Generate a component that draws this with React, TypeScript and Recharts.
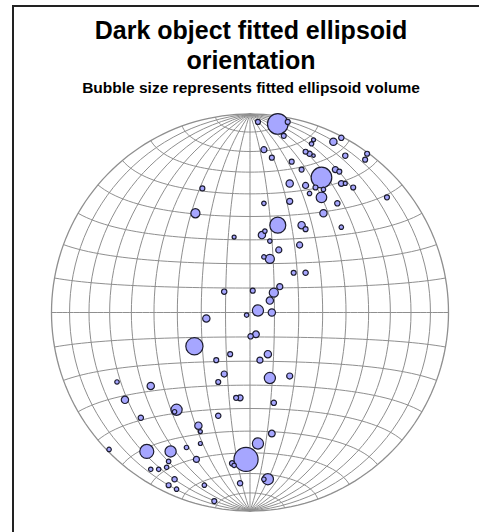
import React from "react";
import { ScatterChart, Scatter, XAxis, YAxis, ZAxis } from "recharts";

// pole positions on an equal-area (Schmidt) net, in % of net radius
const netX = [
  4, 14, 19, 17, 7, 11, 21, 28, 30, 32,
  32, 31, 42, 46, 48, 59, 58, 26, 36, 43,
  45, 20, 28, 33, 37, 30, 46, 48, 52, 69,
  36, 20, 7, 44, 37, 14, 26, 28, 46, 7.5,
  6, 10, 14.5, 25, -24, -27.5, -8, 7, 10, 22,
  28, -13, 1.4, 15, 12, 10, 4, 11, -1.7, -22,
  0.3, 3, -28, -10, 9, 5, -17, 10, 20, -13,
  -16, -67, -50, -63, -37, -38, -7, -5, 12, -55,
  -16, -26, -25, 11, -71, -52, -40, -32, -25, -27,
  4, -2, -9, -8, -50, -46, -42, -41, -38, 9,
  7, -41, -37, -23, -5, -18,
];
const netY = [
  96, 95, 96, 89, 82, 78, 76, 81, 80, 79,
  87, 85, 86, 88, 79, 80, 77, 72, 68, 72,
  71, 65, 64, 63, 62, 60, 65, 65, 63, 58,
  58, 56, 55, 55, 50, 44, 44, 42, 43, 41,
  39, 36, 31.5, 34, 62.5, 50, 38, 28, 27, 20,
  20, 10.5, 11, 13, 10, 6, 1, 0, -1.3, -3,
  -12, -11, -17, -21, -21, -24, -24, -33, -32, -31,
  -35, -35, -37, -44, -49, -50, -43, -43, -45.5, -53,
  -52, -57, -60, -61, -69, -70, -70, -68, -66, -74,
  -66, -74, -76, -77, -79, -79, -78, -75, -84, -84,
  -84, -87, -89, -87, -86, -95,
];
// fitted ellipsoid volume (arbitrary units)
const volume = [
  4, 100, 4, 4, 7, 4, 4, 4, 5, 1,
  2, 3, 11, 5, 5, 4, 4, 4, 100, 7,
  4, 11, 7, 4, 3, 3, 6, 2, 4, 4,
  25, 7, 3, 5, 11, 59, 11, 4, 3, 3,
  11, 3, 7, 7, 4, 18, 2, 3, 18, 4,
  5, 5, 4, 7, 18, 11, 28, 11, 3, 11,
  5, 9, 69, 4, 11, 7, 4, 28, 7, 7,
  4, 3, 11, 11, 28, 3, 4, 7, 5, 5,
  5, 11, 2, 9, 3, 45, 28, 3, 2, 7,
  28, 137, 5, 3, 3, 3, 3, 3, 5, 28,
  3, 4, 3, 3, 5, 4,
];

const bubbles = netX
  .map((x, i) => ({ x, y: netY[i], z: volume[i] }))
  .sort((a, b) => b.z - a.z);

const rad = (d: number) => (d * Math.PI) / 180;

// Lambert equal-area projection of a lower-hemisphere unit vector
const project = (vx: number, vy: number, vz: number) => {
  const k = 100 / Math.sqrt(1 - vz);
  return { x: vx * k, y: vy * k };
};

const gridLines: { x: number; y: number }[][] = [];
// great circles through N and S
for (let phi = 10; phi <= 170; phi += 10) {
  const pts = [];
  for (let t = -90; t <= 90; t += 3) {
    const c = Math.cos(rad(t));
    pts.push(project(c * Math.cos(rad(phi)), Math.sin(rad(t)), -c * Math.sin(rad(phi))));
  }
  gridLines.push(pts);
}
// small circles about the N-S axis
for (let lat = -80; lat <= 80; lat += 10) {
  const pts = [];
  const c = Math.cos(rad(lat));
  for (let s = -180; s <= 0; s += 3) {
    pts.push(project(c * Math.cos(rad(s)), Math.sin(rad(lat)), c * Math.sin(rad(s))));
  }
  gridLines.push(pts);
}
const primitive = [];
for (let a = 0; a <= 360; a += 2) {
  primitive.push({ x: 100 * Math.cos(rad(a)), y: 100 * Math.sin(rad(a)) });
}

const noShape = () => <g />;

export default function App() {
  return (
    <div style={{ position: "absolute", left: 0, top: 0, width: 479, height: 532, background: "#fff", fontFamily: "'Liberation Sans', Arial, sans-serif" }}>
      <div style={{ position: "absolute", left: 12, top: 5, width: 467, height: 527, borderTop: "2px solid #222", borderLeft: "2px solid #222", boxSizing: "border-box" }} />
      <div style={{ position: "absolute", left: 0, width: 502, top: 15, textAlign: "center", fontWeight: "bold", fontSize: 25, lineHeight: "30px", color: "#000" }}>
        Dark object fitted ellipsoid
        <br />
        orientation
      </div>
      <div style={{ position: "absolute", left: 0, width: 502, top: 79, textAlign: "center", fontWeight: "bold", fontSize: 15.5, lineHeight: "18px", color: "#000" }}>
        Bubble size represents fitted ellipsoid volume
      </div>
      <div style={{ position: "absolute", left: 0, top: 0 }}>
        <ScatterChart width={479} height={532} margin={{ top: 114, right: 30.5, bottom: 21, left: 51.5 }}>
          <XAxis type="number" dataKey="x" domain={[-100, 100]} hide />
          <YAxis type="number" dataKey="y" domain={[-100, 100]} hide />
          <ZAxis type="number" dataKey="z" domain={[0, 144]} range={[6, 480]} />
          {gridLines.map((pts, i) => (
            <Scatter key={i} data={pts} line={{ stroke: "#8f8f8f", strokeWidth: 1 }} shape={noShape} isAnimationActive={false} />
          ))}
          <Scatter data={primitive} line={{ stroke: "#8f8f8f", strokeWidth: 1.3 }} shape={noShape} isAnimationActive={false} />
          <Scatter data={bubbles} fill="#a6a6ff" stroke="#1c1c2e" strokeWidth={1.2} isAnimationActive={false} />
        </ScatterChart>
      </div>
    </div>
  );
}
